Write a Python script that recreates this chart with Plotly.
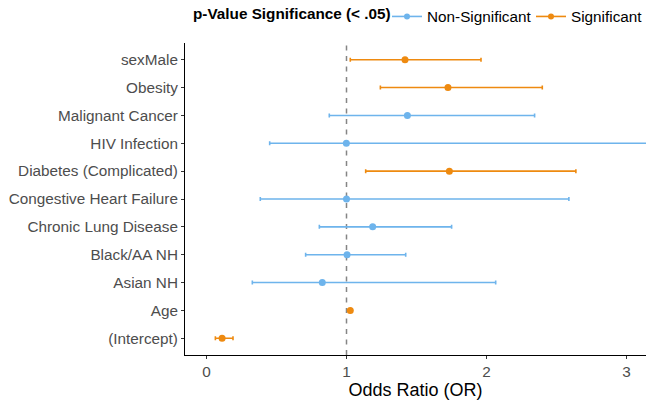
import plotly.graph_objects as go

terms = ["(Intercept)", "Age", "Asian NH", "Black/AA NH", "Chronic Lung Disease",
         "Congestive Heart Failure", "Diabetes (Complicated)", "HIV Infection",
         "Malignant Cancer", "Obesity", "sexMale"]
odds = [0.111, 1.027, 0.827, 1.004, 1.187, 1.000, 1.735, 0.999, 1.435, 1.725, 1.418]
ci_low = [0.063, 1.020, 0.327, 0.708, 0.806, 0.384, 1.137, 0.451, 0.877, 1.242, 1.027]
ci_high = [0.189, 1.035, 2.066, 1.423, 1.751, 2.589, 2.639, 3.600, 2.344, 2.399, 1.961]
significant = [True, True, False, False, False, False, True, False, False, True, True]

groups = ["Non-Significant", "Significant"]
colors = {"Non-Significant": "#6EB4EC", "Significant": "#EE8A10"}
x_ticks = [0, 1, 2, 3]
legend_title = "p-Value Significance (< .05)"

fig = go.Figure()

for g in groups:
    idx = [i for i, s in enumerate(significant) if (s and g == "Significant") or (not s and g == "Non-Significant")]
    xs = [odds[i] for i in idx]
    ys = [terms[i] for i in idx]
    plus = [ci_high[i] - odds[i] for i in idx]
    minus = [odds[i] - ci_low[i] for i in idx]
    fig.add_trace(go.Scatter(
        x=xs, y=ys, mode="markers",
        marker=dict(color=colors[g], size=7),
        error_x=dict(type="data", array=plus, arrayminus=minus, symmetric=False,
                     color=colors[g], thickness=1.6, width=2),
        showlegend=False, hoverinfo="x+y"))

for g in groups:
    fig.add_trace(go.Scatter(
        x=[None], y=[None], mode="lines+markers", name=g,
        marker=dict(color=colors[g], size=6),
        line=dict(color=colors[g], width=1.6)))

fig.add_shape(type="line", x0=1, x1=1, y0=0, y1=1, yref="paper", xref="x",
              line=dict(color="#858585", width=1.5, dash="5px,5.5px"), layer="below")

fig.add_annotation(text="<b>" + legend_title + "</b>", xref="paper", yref="paper",
                   x=0.012, y=1.095, xanchor="left", yanchor="middle", showarrow=False,
                   font=dict(size=15.3, color="#000"))

fig.update_layout(
    width=646, height=404,
    margin=dict(l=185, r=0, t=43, b=49),
    plot_bgcolor="white", paper_bgcolor="white",
    font=dict(family="Liberation Sans, Arial, sans-serif", size=15.3, color="#000000"),
    legend=dict(orientation="h", xref="container", yref="container",
                x=387 / 646, y=1.0, xanchor="left", yanchor="top",
                entrywidth=99, entrywidthmode="pixels",
                font=dict(size=15.3, color="#000"), itemwidth=30, tracegroupgap=0),
)

fig.update_xaxes(
    range=[-0.154, 3.14], tickvals=x_ticks, ticktext=[str(t) for t in x_ticks],
    showgrid=False, zeroline=False, showline=True, linecolor="#000", linewidth=1,
    ticks="outside", ticklen=3, tickcolor="#333", tickwidth=1,
    tickfont=dict(size=15.3, color="#4D4D4D"),
    title=dict(text="Odds Ratio (OR)", font=dict(size=18, color="#000"), standoff=4))

fig.update_yaxes(
    type="category", categoryorder="array", categoryarray=terms,
    range=[-0.6, len(terms) - 0.4],
    showgrid=False, zeroline=False, showline=True, linecolor="#000", linewidth=1,
    ticks="outside", ticklen=3, tickcolor="#333", tickwidth=1,
    tickfont=dict(size=15.3, color="#4D4D4D"))

fig.write_html("out.html", config={"displayModeBar": False},
               post_script="document.body.style.margin='0';")
